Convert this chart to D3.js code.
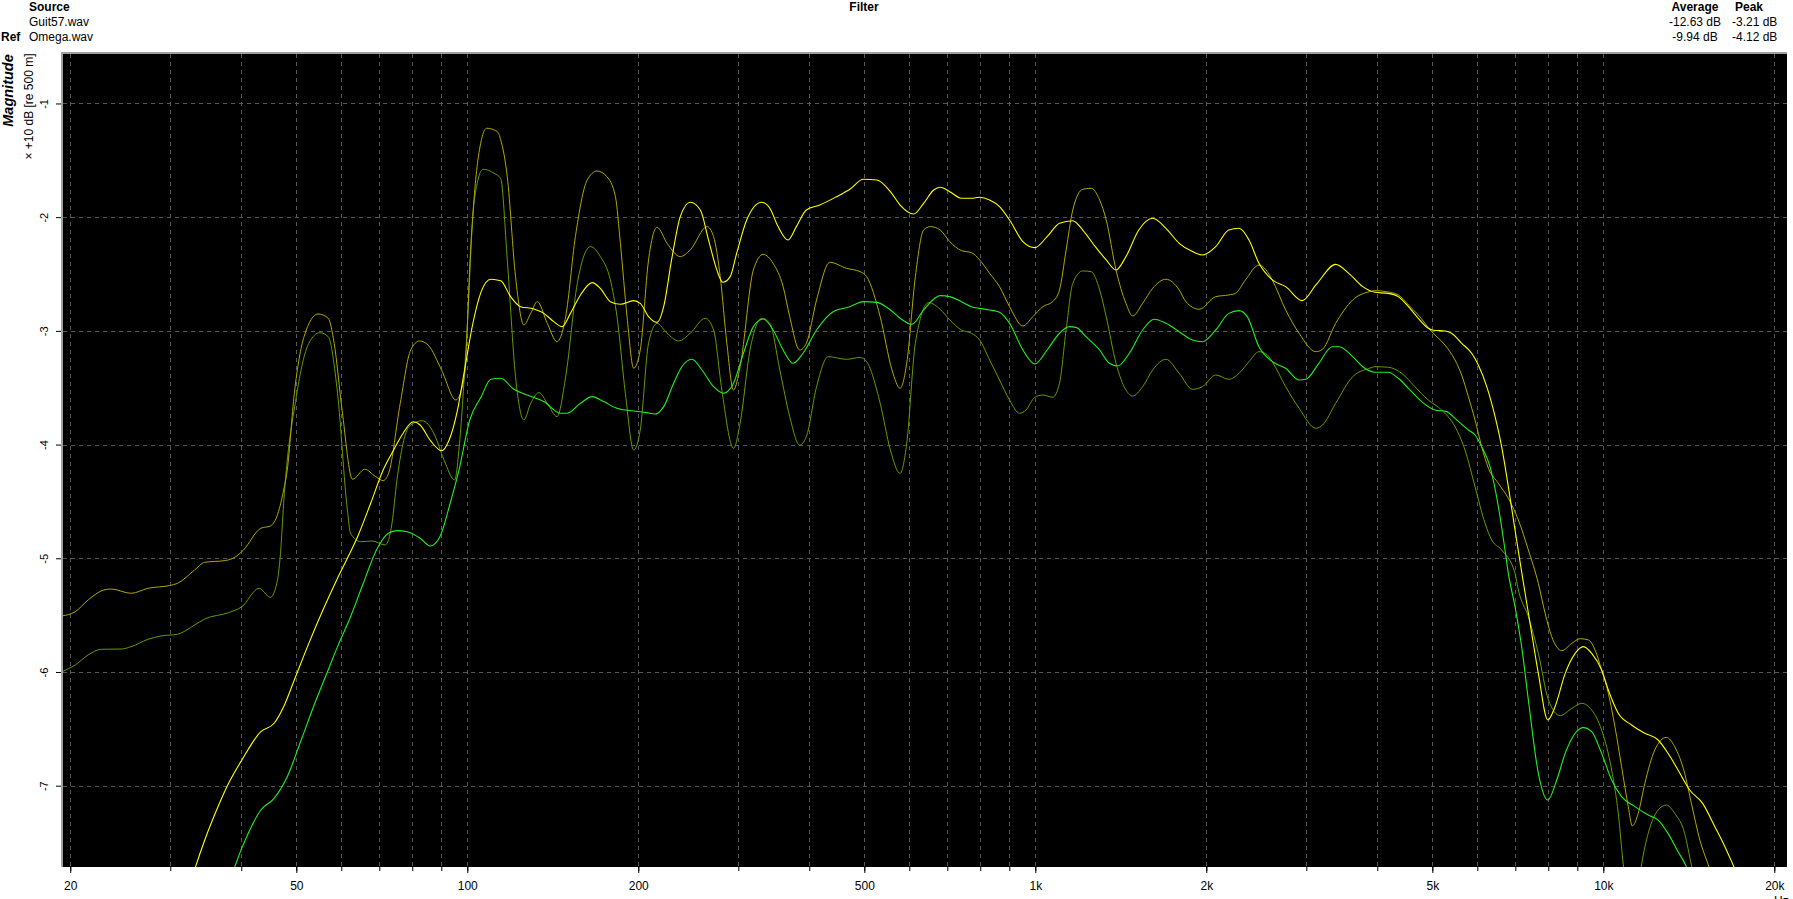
<!DOCTYPE html>
<html>
<head>
<meta charset="utf-8">
<title>Magnitude</title>
<script src="https://cdn.jsdelivr.net/npm/d3@7/dist/d3.min.js"></script>
<style>
	html, body { margin: 0; padding: 0; background: #fff; }
	svg { display: block; font-family: "Liberation Sans", Arial, sans-serif; }
</style>
</head>
<body>
<div id="chart"></div>
<script>

// DATA //

const fileNames = [ 'Guit57.wav', 'Omega.wav' ];
const averageDb = [ '-12.63 dB', '-9.94 dB' ];
const peakDb = [ '-3.21 dB', '-4.12 dB' ];

const yTicks = [ -1, -2, -3, -4, -5, -6, -7 ];
const xLabelTicks = [ 20, 50, 100, 200, 500, 1000, 2000, 5000, 10000, 20000 ];
const xLabelText = [ '20', '50', '100', '200', '500', '1k', '2k', '5k', '10k', '20k' ];
const xGridTicks = [
	20, 30, 40, 50, 60, 70, 80, 90,
	100, 200, 300, 400, 500, 600, 700, 800, 900,
	1000, 2000, 3000, 4000, 5000, 6000, 7000, 8000, 9000,
	10000, 20000
];

// [frequency in Hz, magnitude in units of 10 dB]
const traceOlive = [
	[19.34,-5.507],[20.4,-5.47],[21.5,-5.367],[22.9,-5.279],[23.6,-5.27],[25.6,-5.308],[27.4,-5.264],
	[29.9,-5.24],[30.9,-5.22],[33.1,-5.103],[34.5,-5.035],[37.5,-5.02],[39.0,-4.99],[40.3,-4.93],
	[43.3,-4.736],[45.0,-4.716],[46.2,-4.634],[47.5,-4.40],[48.2,-4.223],[49.6,-3.549],[51.6,-3.051],
	[54.6,-2.851],[56.9,-2.889],[58.3,-3.109],[60.2,-3.696],[62.8,-4.305],[66.0,-4.217],[68.9,-4.28],
	[71.1,-4.317],[72.7,-4.252],[76.2,-3.637],[79.5,-3.168],[82.4,-3.089],[85.3,-3.124],[90.1,-3.344],
	[95.5,-3.608],[98.8,-3.403],[101.5,-2.23],[104.4,-1.497],[108.2,-1.218],[113.0,-1.248],[114.5,-1.32],
	[117.6,-1.644],[121.6,-2.523],[125.8,-2.948],[129.3,-2.846],[132.8,-2.743],[138.3,-2.934],[143.9,-3.095],
	[149.0,-2.875],[155.0,-2.171],[162.6,-1.673],[169.2,-1.594],[176.1,-1.644],[182.3,-1.819],[186.0,-2.23],
	[191.1,-2.875],[196.3,-3.329],[201.6,-3.168],[208.5,-2.376],[215.8,-2.089],[224.8,-2.23],[237.1,-2.347],
	[246.9,-2.288],[264.3,-2.083],[271.4,-2.171],[278.8,-2.523],[286.4,-3.109],[294.2,-3.52],[302.2,-3.315],
	[318.9,-2.464],[331.9,-2.327],[345.5,-2.406],[359.8,-2.611],[369.5,-2.875],[384.7,-3.168],[395.3,-3.109],
	[412.0,-2.728],[434.8,-2.397],[465.3,-2.45],[491.4,-2.479],[504.8,-2.523],[533.2,-2.875],[559.4,-3.344],
	[578.1,-3.505],[593.8,-3.285],[614.9,-2.523],[635.9,-2.113],[653.5,-2.083],[680,-2.113],
	[707,-2.215],[741,-2.294],[772,-2.312],[798,-2.376],[831,-2.494],[865,-2.611],[901,-2.787],[951,-2.957],
	[990,-2.875],[1031,-2.787],[1073,-2.743],[1103,-2.64],[1133,-2.289],[1164,-1.937],[1212,-1.755],
	[1254,-1.746],[1298,-1.849],[1333,-2.025],[1387,-2.464],[1444,-2.758],[1484,-2.869],[1545,-2.758],
	[1609,-2.626],[1698,-2.546],[1792,-2.64],[1841,-2.743],[1943,-2.81],[2078,-2.699],[2191,-2.684],
	[2251,-2.67],[2344,-2.552],[2476,-2.421],[2543,-2.459],[2613,-2.552],[2759,-2.816],[2914,-3.022],
	[3119,-3.183],[3203,-3.162],[3379,-2.934],[3621,-2.728],[3875,-2.655],
	[3963,-2.646],[4181,-2.658],[4355,-2.684],[4538,-2.772],[4724,-2.86],[4985,-3.007],[5263,-3.124],
	[5481,-3.256],[5631,-3.388],[5786,-3.578],[5945,-3.784],[6107,-4.018],[6277,-4.209],[6535,-4.341],
	[6804,-4.473],[7086,-4.663],[7379,-4.927],[7684,-5.22],[7898,-5.484],[8112,-5.689],[8449,-5.812],
	[8802,-5.748],[9103,-5.707],[9412,-5.718],[9670,-5.806],[9931,-5.982],[10205,-6.188],[10482,-6.481],
	[10768,-6.833],[11065,-7.184],[11243,-7.354],[11520,-7.243],[11833,-6.979],[12321,-6.686],[12911,-6.575],
	[13355,-6.657],[13906,-6.891],[14290,-7.155],[14790,-7.478],[15305,-7.697],[15717,-7.86]
];

const traceMoss = [
	[19.34,-5.997],[20.4,-5.939],[21.5,-5.85],[22.7,-5.80],[24.6,-5.798],[25.6,-5.777],[27.4,-5.713],
	[28.9,-5.683],[30.9,-5.668],[33.1,-5.587],[34.5,-5.534],[38.0,-5.478],[40.1,-5.426],[43.0,-5.264],
	[45.0,-5.343],[46.2,-5.22],[46.9,-4.956],[47.5,-4.516],[50.0,-3.579],[52.6,-3.109],[55.0,-3.016],
	[56.9,-3.051],[59.1,-3.549],[61.5,-4.575],[62.3,-4.78],[64.9,-4.854],[68.0,-4.848],[71.7,-4.883],
	[73.7,-4.692],[75.2,-4.31],[78.9,-3.843],[81.6,-3.799],[83.3,-3.79],[87.3,-3.90],[91.0,-4.135],
	[95.0,-4.311],[96.9,-3.989],[99.6,-3.109],[102.9,-1.849],[106.6,-1.579],[111.5,-1.614],[114.5,-1.66],
	[117.6,-2.376],[121.6,-3.403],[125.8,-3.784],[129.3,-3.637],[133.7,-3.543],[138.3,-3.637],[143.9,-3.754],
	[149.0,-3.403],[156.2,-2.582],[164.8,-2.259],[171.5,-2.347],[178.6,-2.552],[183.5,-2.875],[189.8,-3.549],
	[196.3,-4.048],[201.6,-3.872],[208.5,-3.109],[215.8,-2.934],[224.8,-3.021],[235.4,-3.089],[246.9,-3.021],
	[262.4,-2.889],[271.4,-2.992],[280.6,-3.52],[294.2,-4.033],[302.2,-3.813],[314.6,-3.168],[329.8,-2.889],
	[340.9,-2.934],[355.0,-3.344],[369.5,-3.754],[384.7,-4.004],[395.3,-3.93],[412.0,-3.491],[431.9,-3.227],
	[465.3,-3.25],[491.4,-3.233],[504.8,-3.271],[533.2,-3.637],[555.7,-4.048],[578.1,-4.253],[593.8,-3.989],
	[614.9,-3.109],[649.0,-2.752],[680,-2.81],
	[707,-2.904],[741,-2.992],[772,-3.021],[798,-3.08],[831,-3.256],[865,-3.432],[901,-3.608],[938,-3.725],
	[963,-3.696],[998,-3.584],[1031,-3.564],[1073,-3.584],[1103,-3.461],[1133,-2.992],[1164,-2.582],
	[1212,-2.473],[1254,-2.479],[1298,-2.64],[1333,-2.875],[1387,-3.285],[1444,-3.52],[1484,-3.573],
	[1545,-3.491],[1609,-3.344],[1698,-3.25],[1792,-3.373],[1891,-3.514],[1969,-3.491],[2078,-3.388],
	[2191,-3.426],[2284,-3.373],[2378,-3.271],[2476,-3.183],[2561,-3.212],[2613,-3.271],[2759,-3.491],
	[2914,-3.681],[3119,-3.857],[3203,-3.828],[3379,-3.637],[3621,-3.403],[3875,-3.329],
	[3963,-3.315],[4181,-3.32],[4415,-3.373],[4660,-3.491],[4918,-3.608],[5192,-3.696],[5481,-3.842],
	[5707,-4.047],[5945,-4.37],[6190,-4.692],[6361,-4.839],[6622,-4.927],[6991,-5.132],[7086,-5.279],
	[7379,-5.513],[7684,-5.836],[8005,-6.246],[8394,-6.384],[8802,-6.319],[9162,-6.276],[9539,-6.334],
	[9931,-6.51],[10343,-6.862],[10625,-7.243],[10843,-7.697],[11290,-8.3],[11675,-7.697],[11996,-7.419],
	[12487,-7.214],[12911,-7.17],[13355,-7.243],[13906,-7.419],[14290,-7.697],[14695,-7.95]
];

const traceYellow = [
	[31.5,-8.1],[33.1,-7.74],[34.5,-7.478],[36.0,-7.243],[38.0,-6.979],[40.1,-6.774],[43.3,-6.525],
	[45.7,-6.451],[47.5,-6.305],[49.6,-6.07],[52.6,-5.748],[55.7,-5.455],[58.9,-5.191],[61.5,-5.0],
	[64.1,-4.81],[67.6,-4.516],[71.1,-4.223],[74.2,-4.047],[77.1,-3.90],[80.3,-3.799],[82.6,-3.828],
	[86.0,-3.96],[90.1,-4.054],[92.9,-3.96],[96.1,-3.696],[98.9,-3.344],[102.3,-2.933],[105.8,-2.655],
	[110.0,-2.546],[114.5,-2.56],[119.2,-2.699],[124.1,-2.787],[131.0,-2.807],[136.4,-2.846],[142.0,-2.919],
	[146.9,-2.963],[151.9,-2.846],[158.2,-2.684],[165.9,-2.576],[171.5,-2.626],[178.6,-2.743],[186.0,-2.766],
	[196.3,-2.734],[201.6,-2.758],[208.5,-2.875],[215.8,-2.925],[221.7,-2.787],[228.9,-2.376],[237.1,-1.995],
	[246.9,-1.869],[257.2,-1.937],[265.9,-2.201],[275.0,-2.464],[281.8,-2.573],[290.3,-2.523],[298.0,-2.318],
	[310.4,-2.025],[329.8,-1.869],[340.9,-1.922],[352.5,-2.083],[367.0,-2.201],[379.6,-2.083],[395.3,-1.937],
	[417.5,-1.893],[446.7,-1.82],[471.6,-1.755],[498.1,-1.667],[526.0,-1.673],[555.7,-1.775],[578.1,-1.893],
	[610.6,-1.972],[635.9,-1.878],[662.4,-1.761],[680,-1.737],
	[707,-1.776],[741,-1.834],[772,-1.834],[798,-1.825],[831,-1.849],[865,-1.907],[901,-2.025],[951,-2.215],
	[998,-2.268],[1049,-2.171],[1103,-2.054],[1164,-2.031],[1212,-2.113],[1275,-2.259],[1333,-2.376],
	[1387,-2.464],[1444,-2.347],[1521,-2.113],[1609,-2.01],[1698,-2.098],[1792,-2.23],[1891,-2.303],
	[1969,-2.333],[2078,-2.259],[2191,-2.113],[2284,-2.098],[2378,-2.201],[2476,-2.406],[2613,-2.552],
	[2759,-2.611],[2951,-2.734],[3119,-2.596],[3379,-2.415],[3563,-2.494],[3771,-2.611],
	[3963,-2.661],[4181,-2.67],[4355,-2.699],[4538,-2.787],[4724,-2.889],[4918,-2.977],[5021,-2.995],
	[5263,-3.001],[5405,-3.021],[5631,-3.109],[5865,-3.197],[6024,-3.3],[6234,-3.49],[6448,-3.754],
	[6622,-4.018],[6804,-4.37],[6991,-4.75],[7181,-5.12],[7431,-5.572],[7684,-6.012],[7985,-6.422],
	[8223,-6.305],[8568,-6.012],[8921,-5.836],[9226,-5.777],[9539,-5.836],[9931,-5.982],[10205,-6.158],
	[10625,-6.363],[11215,-6.466],[11833,-6.539],[12487,-6.598],[12999,-6.715],[13538,-6.862],[14192,-7.038],
	[14957,-7.155],[15717,-7.36],[16371,-7.536],[16922,-7.697],[17500,-7.86]
];

const traceGreen = [
	[37.0,-8.1],[38.8,-7.74],[41.4,-7.39],[43.3,-7.214],[45.7,-7.111],[48.2,-6.921],[51.0,-6.598],
	[53.9,-6.275],[56.9,-5.982],[59.1,-5.777],[62.3,-5.514],[65.6,-5.22],[69.2,-4.927],[72.6,-4.78],
	[75.2,-4.757],[78.4,-4.766],[82.6,-4.824],[86.0,-4.892],[89.5,-4.81],[93.3,-4.516],[96.7,-4.223],
	[101,-3.784],[105.8,-3.579],[110.0,-3.426],[114.5,-3.417],[120.8,-3.514],[127.5,-3.564],[136.4,-3.622],
	[145.9,-3.725],[149.9,-3.725],[158.2,-3.637],[165.9,-3.578],[173.8,-3.622],[183.5,-3.681],[196.3,-3.705],
	[207.1,-3.719],[214.1,-3.731],[221.7,-3.666],[230.8,-3.461],[238.6,-3.315],[248.6,-3.25],[258.9,-3.344],
	[271.4,-3.491],[282.6,-3.549],[294.2,-3.461],[306.3,-3.197],[318.9,-2.963],[331.9,-2.895],[345.5,-2.992],
	[359.8,-3.168],[374.4,-3.285],[389.9,-3.197],[412.0,-2.992],[440.7,-2.831],[471.6,-2.787],[498.1,-2.743],
	[526.0,-2.749],[555.7,-2.816],[578.1,-2.889],[606.4,-2.942],[635.9,-2.816],[680,-2.69],
	[707,-2.699],[741,-2.743],[772,-2.787],[798,-2.802],[831,-2.816],[865,-2.837],[901,-2.934],[951,-3.168],
	[998,-3.291],[1049,-3.168],[1103,-3.021],[1148,-2.963],[1179,-2.969],[1228,-3.051],[1298,-3.168],
	[1350,-3.285],[1397,-3.309],[1464,-3.197],[1545,-2.992],[1619,-2.898],[1698,-2.934],[1792,-3.007],
	[1891,-3.08],[1969,-3.095],[2078,-2.992],[2191,-2.846],[2284,-2.822],[2361,-2.875],[2476,-3.139],
	[2613,-3.271],[2759,-3.329],[2914,-3.432],[2994,-3.426],[3156,-3.285],[3331,-3.139],[3428,-3.139],
	[3621,-3.227],[3771,-3.315],
	[3963,-3.364],[4181,-3.364],[4355,-3.417],[4538,-3.505],[4787,-3.622],[5053,-3.696],[5299,-3.71],
	[5481,-3.769],[5786,-3.872],[5945,-3.916],[6107,-4.018],[6317,-4.194],[6535,-4.546],[6713,-4.927],
	[6804,-5.132],[6991,-5.425],[7181,-5.777],[7379,-6.246],[7684,-6.891],[7985,-7.126],[8279,-6.95],
	[8568,-6.715],[8921,-6.539],[9226,-6.489],[9539,-6.525],[9931,-6.715],[10343,-6.95],[10768,-7.096],
	[11366,-7.184],[11996,-7.258],[12487,-7.302],[12999,-7.419],[13538,-7.58],[14001,-7.712],[14402,-7.89]
];

// drawn back to front
const series = [
	{ name: 'moss', color: '#639c00', width: 1, values: traceMoss },
	{ name: 'olive', color: '#b0a800', width: 1, values: traceOlive },
	{ name: 'green', color: '#22f022', width: 1.1, values: traceGreen },
	{ name: 'yellow', color: '#ffff00', width: 1.1, values: traceYellow }
];


// LAYOUT //

const width = 1793;
const height = 899;
const plot = { left: 63, top: 54, right: 1787, bottom: 867 };

const x = d3.scaleLog()
	.domain([ 19.42, 21055 ])
	.range([ plot.left, plot.right ]);

const y = d3.scaleLinear()
	.domain([ -7.715, -0.565 ])
	.range([ plot.bottom, plot.top ]);

const svg = d3.select( '#chart' ).append( 'svg' )
	.attr( 'width', width )
	.attr( 'height', height );


// HEADER //

const header = svg.append( 'g' )
	.style( 'font-size', '12px' )
	.style( 'fill', '#000' );

header.append( 'text' ).attr( 'x', 29 ).attr( 'y', 11 )
	.style( 'font-weight', 'bold' ).text( 'Source' );
header.append( 'text' ).attr( 'x', 1 ).attr( 'y', 40.5 )
	.style( 'font-weight', 'bold' ).text( 'Ref' );
header.selectAll( 'text.file' )
	.data( fileNames )
	.enter().append( 'text' )
	.attr( 'class', 'file' )
	.attr( 'x', 29 )
	.attr( 'y', ( d, i ) => 26 + i * 14.5 )
	.text( d => d );

header.append( 'text' ).attr( 'x', 864 ).attr( 'y', 11 )
	.attr( 'text-anchor', 'middle' )
	.style( 'font-weight', 'bold' ).text( 'Filter' );

header.append( 'text' ).attr( 'x', 1695 ).attr( 'y', 11 )
	.attr( 'text-anchor', 'middle' )
	.style( 'font-weight', 'bold' ).text( 'Average' );
header.append( 'text' ).attr( 'x', 1735 ).attr( 'y', 11 )
	.style( 'font-weight', 'bold' ).text( 'Peak' );

header.selectAll( 'text.avg' )
	.data( averageDb )
	.enter().append( 'text' )
	.attr( 'class', 'avg' )
	.attr( 'x', 1695 )
	.attr( 'y', ( d, i ) => 26 + i * 14.5 )
	.attr( 'text-anchor', 'middle' )
	.text( d => d );

header.selectAll( 'text.peak' )
	.data( peakDb )
	.enter().append( 'text' )
	.attr( 'class', 'peak' )
	.attr( 'x', 1732 )
	.attr( 'y', ( d, i ) => 26 + i * 14.5 )
	.text( d => d );


// PLOT AREA //

svg.append( 'rect' )
	.attr( 'x', plot.left )
	.attr( 'y', plot.top )
	.attr( 'width', plot.right - plot.left )
	.attr( 'height', plot.bottom - plot.top )
	.style( 'fill', '#000' );

// Sunken frame: only top and left edges show on white.
svg.append( 'rect' )
	.attr( 'x', plot.left - 2 ).attr( 'y', plot.top - 2 )
	.attr( 'width', plot.right - plot.left + 2 ).attr( 'height', 2 )
	.style( 'fill', '#a0a0a0' );
svg.append( 'rect' )
	.attr( 'x', plot.left - 2 ).attr( 'y', plot.top - 2 )
	.attr( 'width', 2 ).attr( 'height', plot.bottom - plot.top + 2 )
	.style( 'fill', '#a0a0a0' );

const grid = svg.append( 'g' )
	.style( 'stroke', '#585858' )
	.style( 'stroke-width', 1 )
	.style( 'stroke-dasharray', '4,4' )
	.attr( 'shape-rendering', 'crispEdges' );

grid.selectAll( 'line.v' )
	.data( xGridTicks )
	.enter().append( 'line' )
	.attr( 'class', 'v' )
	.attr( 'x1', d => Math.round( x( d ) ) + 0.5 )
	.attr( 'x2', d => Math.round( x( d ) ) + 0.5 )
	.attr( 'y1', plot.top )
	.attr( 'y2', plot.bottom );

grid.selectAll( 'line.h' )
	.data( yTicks )
	.enter().append( 'line' )
	.attr( 'class', 'h' )
	.attr( 'x1', plot.left )
	.attr( 'x2', plot.right )
	.attr( 'y1', d => Math.round( y( d ) ) + 0.5 )
	.attr( 'y2', d => Math.round( y( d ) ) + 0.5 );

svg.append( 'clipPath' )
	.attr( 'id', 'plot-clip' )
	.append( 'rect' )
	.attr( 'x', plot.left )
	.attr( 'y', plot.top )
	.attr( 'width', plot.right - plot.left )
	.attr( 'height', plot.bottom - plot.top );

const line = d3.line()
	.x( d => x( d[0] ) )
	.y( d => y( d[1] ) )
	.curve( d3.curveMonotoneX );

svg.append( 'g' )
	.attr( 'clip-path', 'url(#plot-clip)' )
	.selectAll( 'path' )
	.data( series )
	.enter().append( 'path' )
	.attr( 'd', d => line( d.values ) )
	.style( 'fill', 'none' )
	.style( 'stroke', d => d.color )
	.style( 'stroke-width', d => d.width );


// AXES //

const xMinor = d3.axisBottom( x )
	.tickValues( xGridTicks )
	.tickSize( 4 )
	.tickFormat( '' );

svg.append( 'g' )
	.attr( 'transform', 'translate(0,' + plot.bottom + ')' )
	.call( xMinor )
	.call( g => g.select( '.domain' ).remove() );

const xMajor = d3.axisBottom( x )
	.tickValues( xLabelTicks )
	.tickSize( 6 )
	.tickFormat( ( d, i ) => xLabelText[ i ] );

svg.append( 'g' )
	.attr( 'transform', 'translate(0,' + plot.bottom + ')' )
	.call( xMajor )
	.call( g => g.select( '.domain' ).remove() )
	.call( g => g.selectAll( 'text' )
		.attr( 'y', 23 )
		.attr( 'dy', 0 )
		.style( 'font-size', '12px' )
		.style( 'font-family', '"Liberation Sans", Arial, sans-serif' ) );

// unit label, clipped by the bottom edge as in the original
svg.append( 'text' )
	.attr( 'x', 1774 )
	.attr( 'y', 905 )
	.style( 'font-size', '12px' )
	.text( 'Hz' );

const yAxis = d3.axisLeft( y )
	.tickValues( yTicks )
	.tickSize( 5 )
	.tickFormat( d => String( d ) );

svg.append( 'g' )
	.attr( 'transform', 'translate(' + ( plot.left - 2 ) + ',0)' )
	.call( yAxis )
	.call( g => g.select( '.domain' ).remove() )
	.call( g => g.selectAll( 'text' )
		.attr( 'transform', 'rotate(-90)' )
		.attr( 'x', 0 )
		.attr( 'y', -13 )
		.attr( 'dy', 0 )
		.attr( 'text-anchor', 'middle' )
		.style( 'font-size', '11px' )
		.style( 'font-family', '"Liberation Sans", Arial, sans-serif' ) );

// Y axis titles, read bottom to top.
svg.append( 'text' )
	.attr( 'transform', 'translate(13,90.5) rotate(-90)' )
	.attr( 'text-anchor', 'middle' )
	.style( 'font-size', '14.5px' )
	.style( 'font-weight', 'bold' )
	.style( 'font-style', 'italic' )
	.text( 'Magnitude' );

svg.append( 'text' )
	.attr( 'transform', 'translate(33,106.5) rotate(-90)' )
	.attr( 'text-anchor', 'middle' )
	.style( 'font-size', '12px' )
	.text( '× +10 dB [re 500 m]' );

</script>
</body>
</html>
